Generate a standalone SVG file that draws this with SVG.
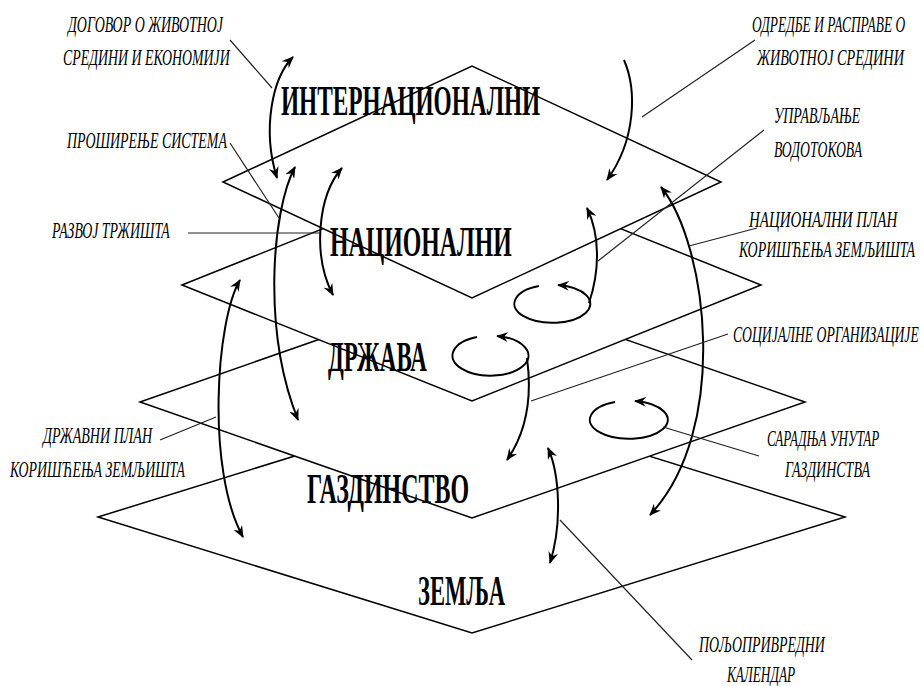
<svg xmlns="http://www.w3.org/2000/svg" width="924" height="686" viewBox="0 0 924 686">
<style>
.plane{fill:#fff;stroke:#000;stroke-width:1.5;stroke-linejoin:miter}
.big{font-family:"Liberation Serif","Times New Roman",serif;font-weight:bold;font-size:43px;fill:#000}
.sm{font-family:"Liberation Serif","Times New Roman",serif;font-style:italic;font-size:23px;fill:#000}
.arc{fill:none;stroke:#000;stroke-width:2}
.lead{fill:none;stroke:#222;stroke-width:1.2}
</style>
<defs>
<marker id="ah" viewBox="0 0 12 10" refX="11" refY="5" markerWidth="12" markerHeight="10" orient="auto-start-reverse" markerUnits="userSpaceOnUse">
<path d="M0,0 L12,5 L0,10 L4,5 z" fill="#000"/>
</marker>
</defs>
<rect width="924" height="686" fill="#fff"/>

<g id="zemlja">
<polygon class="plane" points="98,517 472,401 845,517 472,633"/>
<text class="big" transform="translate(418,605) scale(0.6,1)" textLength="145" lengthAdjust="spacingAndGlyphs">ЗЕМЉА</text>
</g>
<g id="gazdinstvo">
<polygon class="plane" points="140,402 472,286 805,402 472,518"/>
<text class="big" transform="translate(307,503) scale(0.6,1)" textLength="270" lengthAdjust="spacingAndGlyphs">ГАЗДИНСТВО</text>
</g>
<g id="drzava">
<polygon class="plane" points="182,285 472,169 761,285 472,401"/>
<text class="big" transform="translate(328,371) scale(0.6,1)" textLength="165" lengthAdjust="spacingAndGlyphs">ДРЖАВА</text>
</g>
<g id="nacionalni">
<polygon class="plane" points="223,182 472,66 721,182 472,298"/>
<text class="big" transform="translate(330,256) scale(0.6,1)" textLength="303" lengthAdjust="spacingAndGlyphs">НАЦИОНАЛНИ</text>
</g>
<g id="internacionalni">
<text class="big" transform="translate(281,115) scale(0.6,1)" textLength="432" lengthAdjust="spacingAndGlyphs">ИНТЕРНАЦИОНАЛНИ</text>
</g>

<g id="lbl-dogovor">
<text class="sm" transform="translate(68,32) scale(0.62,1)" textLength="250" lengthAdjust="spacingAndGlyphs">ДОГОВОР О ЖИВОТНОЈ</text>
<text class="sm" transform="translate(63,65) scale(0.62,1)" textLength="269" lengthAdjust="spacingAndGlyphs">СРЕДИНИ И ЕКОНОМИЈИ</text>
</g>
<g id="lbl-prosirenje">
<text class="sm" transform="translate(67,148) scale(0.62,1)" textLength="258" lengthAdjust="spacingAndGlyphs">ПРОШИРЕЊЕ СИСТЕМА</text>
</g>
<g id="lbl-razvoj">
<text class="sm" transform="translate(52,238) scale(0.62,1)" textLength="190" lengthAdjust="spacingAndGlyphs">РАЗВОЈ ТРЖИШТА</text>
</g>
<g id="lbl-drzavni-plan">
<text class="sm" transform="translate(43,443) scale(0.62,1)" textLength="176" lengthAdjust="spacingAndGlyphs">ДРЖАВНИ ПЛАН</text>
<text class="sm" transform="translate(10,477) scale(0.62,1)" textLength="282" lengthAdjust="spacingAndGlyphs">КОРИШЋЕЊА ЗЕМЉИШТА</text>
</g>
<g id="lbl-odredbe">
<text class="sm" transform="translate(752,32) scale(0.62,1)" textLength="247" lengthAdjust="spacingAndGlyphs">ОДРЕДБЕ И РАСПРАВЕ О</text>
<text class="sm" transform="translate(757,65) scale(0.62,1)" textLength="237" lengthAdjust="spacingAndGlyphs">ЖИВОТНОЈ СРЕДИНИ</text>
</g>
<g id="lbl-upravljanje">
<text class="sm" transform="translate(774,123) scale(0.62,1)" textLength="139" lengthAdjust="spacingAndGlyphs">УПРАВЉАЊЕ</text>
<text class="sm" transform="translate(774,157) scale(0.62,1)" textLength="142" lengthAdjust="spacingAndGlyphs">ВОДОТОКОВА</text>
</g>
<g id="lbl-nacionalni-plan">
<text class="sm" transform="translate(749,227) scale(0.62,1)" textLength="239" lengthAdjust="spacingAndGlyphs">НАЦИОНАЛНИ ПЛАН</text>
<text class="sm" transform="translate(739,257) scale(0.62,1)" textLength="284" lengthAdjust="spacingAndGlyphs">КОРИШЋЕЊА ЗЕМЉИШТА</text>
</g>
<g id="lbl-socijalne">
<text class="sm" transform="translate(733,342) scale(0.54,1)" textLength="344" lengthAdjust="spacingAndGlyphs">СОЦИЈАЛНЕ ОРГАНИЗАЦИЈЕ</text>
</g>
<g id="lbl-saradnja">
<text class="sm" transform="translate(767,446) scale(0.62,1)" textLength="181" lengthAdjust="spacingAndGlyphs">САРАДЊА УНУТАР</text>
<text class="sm" transform="translate(785,477) scale(0.62,1)" textLength="137" lengthAdjust="spacingAndGlyphs">ГАЗДИНСТВА</text>
</g>
<g id="lbl-poljoprivredni">
<text class="sm" transform="translate(699,652) scale(0.62,1)" textLength="203" lengthAdjust="spacingAndGlyphs">ПОЉОПРИВРЕДНИ</text>
<text class="sm" transform="translate(727,682) scale(0.62,1)" textLength="110" lengthAdjust="spacingAndGlyphs">КАЛЕНДАР</text>
</g>

<g id="connectors">
<path class="arc" d="M293,57 C272,78 262,130 277,178" marker-start="url(#ah)" marker-end="url(#ah)"/>
<path class="arc" d="M295,167 C272,210 262,330 298,420" marker-start="url(#ah)" marker-end="url(#ah)"/>
<path class="arc" d="M342,168 C318,195 312,255 333,295" marker-start="url(#ah)" marker-end="url(#ah)"/>
<path class="arc" d="M240,280 C216,320 206,470 243,537" marker-start="url(#ah)" marker-end="url(#ah)"/>
<path class="arc" d="M624,60 C637,90 636,140 607,180" marker-end="url(#ah)"/>
<path class="arc" d="M661,187 C708,245 730,430 650,515" marker-start="url(#ah)" marker-end="url(#ah)"/>
<path class="arc" d="M548,448 C560,475 562,525 550,563" marker-start="url(#ah)" marker-end="url(#ah)"/>
<path class="arc" d="M539,286 A38,19 0 1 0 558,285" marker-end="url(#ah)"/>
<path class="arc" d="M589,303 C600,270 600,235 587,208" marker-end="url(#ah)"/>
<path class="arc" d="M477,337 A38,20 0 1 0 497,336" marker-end="url(#ah)"/>
<path class="arc" d="M527,358 C532,395 528,430 507,460" marker-end="url(#ah)"/>
<path class="arc" d="M615,402 A39,19 0 1 0 635,401" marker-end="url(#ah)"/>
<line class="lead" x1="230" y1="40" x2="272" y2="88"/>
<line class="lead" x1="230" y1="143" x2="279" y2="218"/>
<line class="lead" x1="188" y1="233" x2="320" y2="233"/>
<line class="lead" x1="755" y1="40" x2="642" y2="117"/>
<line class="lead" x1="764" y1="130" x2="598" y2="261"/>
<line class="lead" x1="757" y1="228" x2="689" y2="246"/>
<line class="lead" x1="728" y1="334" x2="531" y2="401"/>
<line class="lead" x1="160" y1="440" x2="216" y2="417"/>
<line class="lead" x1="759" y1="456" x2="663" y2="427"/>
<line class="lead" x1="692" y1="660" x2="560" y2="520"/>
</g>
</svg>
